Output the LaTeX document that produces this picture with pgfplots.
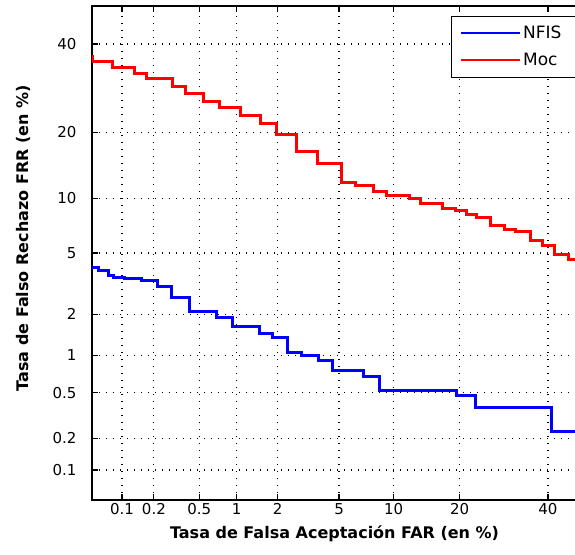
\documentclass[border=0pt]{standalone}
\usepackage{pgfplots}
\pgfplotsset{compat=1.18}
\usepackage{fontspec}
\setmainfont{DejaVu Sans}

\begin{document}
\begin{tikzpicture}[
  declare function={
    tq(\p)=sqrt(-2*ln(\p/100));
    probit(\p)=-(tq(\p)-(2.515517+0.802853*tq(\p)+0.010328*tq(\p)^2)/(1+1.432788*tq(\p)+0.189269*tq(\p)^2+0.001308*tq(\p)^3));
  }]
\begin{axis}[
  name=det,
  scale only axis, width=494pt, height=494pt,
  xmin=-3.2905, xmax=0, ymin=-3.2905, ymax=0,
  x filter/.expression={probit(x)},
  y filter/.expression={probit(y)},
  xtick={-3.0902,-2.8782,-2.5758,-2.3263,-2.0537,-1.6449,-1.2816,-0.8416,-0.2533},
  ytick={-3.0902,-2.8782,-2.5758,-2.3263,-2.0537,-1.6449,-1.2816,-0.8416,-0.2533},
  xticklabels={0.1,0.2,0.5,1,2,5,10,20,40},
  yticklabels={0.1,0.2,0.5,1,2,5,10,20,40},
  tick align=inside,
  major tick length=6pt,
  grid=major,
  major grid style={black, line width=1.2pt, dash pattern=on 1.2pt off 5.8pt},
  axis line style={line width=1.2pt},
  tick style={black, line width=1.2pt},
  ticklabel style={font=\fontsize{15}{18}\selectfont},
  yticklabel style={xshift=-12pt},
  xlabel={Tasa de Falsa Aceptación FAR (en \%)},
  ylabel={Tasa de Falso Rechazo FRR (en \%)},
  label style={font=\bfseries\fontsize{16}{19}\selectfont},
  xlabel style={at={(axis description cs:0.491,-0.045)}, anchor=north},
  ylabel style={at={(axis description cs:-0.117,0.53)}, anchor=south},
  legend style={at={(axis description cs:0.727,0.980)}, anchor=north west,
    draw=black, line width=1pt, fill=white,
    font=\fontsize{17}{20}\selectfont, inner xsep=4pt, inner ysep=8pt, row sep=9pt},
  legend cell align=left,
  legend image code/.code={\path (0pt,0pt); \draw[#1, line width=2pt] (4pt,0pt) -- (63pt,0pt);},
]

% NFIS
\addplot[blue, line width=3pt, const plot] coordinates {
  (0.05,4.09) (0.058,3.90) (0.073,3.62) (0.082,3.55) (0.105,3.47)
  (0.153,3.37) (0.216,3.08) (0.288,2.61) (0.415,2.09) (0.692,1.90)
  (0.920,1.64) (1.49,1.47) (1.84,1.37) (2.33,1.05) (2.90,0.99)
  (3.72,0.904) (4.59,0.757) (6.90,0.679) (8.41,0.522) (19.34,0.470)
  (23.15,0.377) (40.98,0.230) (50,0.230)
};
\addlegendentry{\makebox[60pt][l]{NFIS}}

% Moc
\addplot[red, line width=3pt, const plot] coordinates {
  (0.05,36.7) (0.0505,35.46) (0.080,34.16) (0.133,32.71) (0.171,31.35)
  (0.293,29.56) (0.385,27.90) (0.538,26.2) (0.727,24.91) (1.067,23.35)
  (1.506,21.60) (1.958,19.52) (2.68,16.60) (3.68,14.64) (5.14,11.97)
  (6.20,11.54) (7.84,10.82) (9.23,10.33) (11.94,9.94) (13.46,9.45)
  (17.0,8.82) (19.16,8.65) (21.36,8.21) (23.35,7.97) (26.29,7.15)
  (29.26,6.85) (31.82,6.65) (35.46,5.90) (38.56,5.52) (41.56,4.87)
  (45.3,4.54) (50,4.54)
};
\addlegendentry{Moc}

\end{axis}
\pgfresetboundingbox
\path[use as bounding box] ([shift={(-92pt,-54pt)}]det.south west) rectangle ([shift={(-11pt,6pt)}]det.north east);
\end{tikzpicture}
\end{document}
